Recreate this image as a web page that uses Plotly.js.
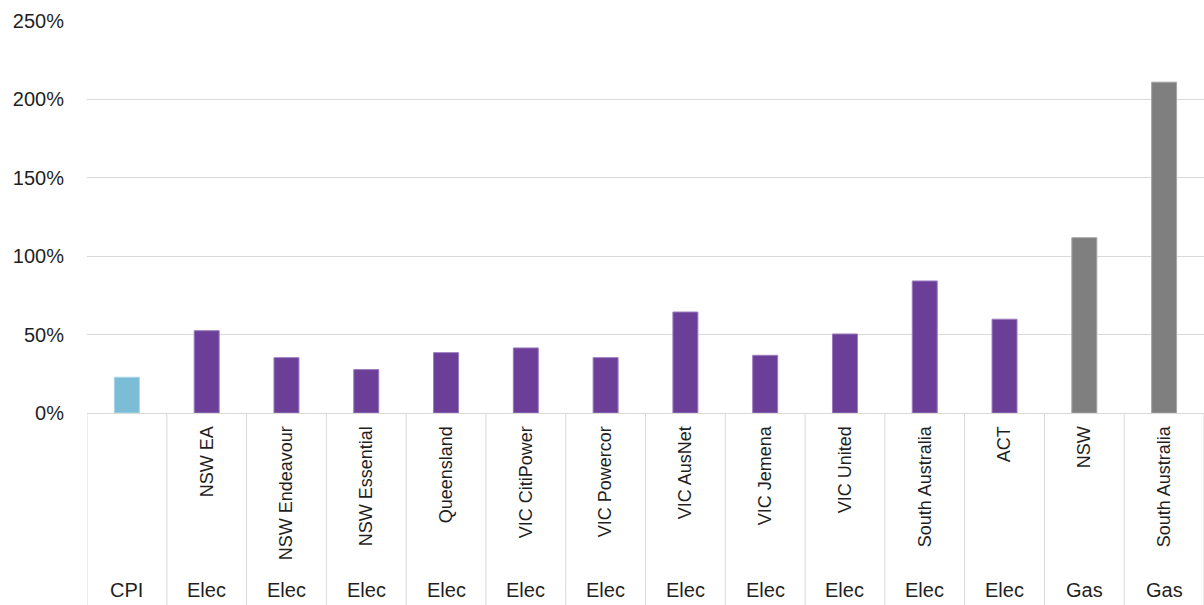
<!DOCTYPE html>
<html>
<head>
<meta charset="utf-8">
<script src="https://cdn.plot.ly/plotly-3.0.1.min.js"></script>
<style>
  html, body { margin: 0; padding: 0; background: #fff; }
  #chart { width: 1204px; height: 605px; }
</style>
</head>
<body>
<div id="chart"></div>
<script>
// ---- data ----
const names  = ["", "NSW EA", "NSW Endeavour", "NSW Essential", "Queensland", "VIC CitiPower",
                "VIC Powercor", "VIC AusNet", "VIC Jemena", "VIC United", "South Australia",
                "ACT", "NSW", "South Australia"];
const groups = ["CPI", "Elec", "Elec", "Elec", "Elec", "Elec", "Elec", "Elec", "Elec", "Elec",
                "Elec", "Elec", "Gas", "Gas"];
const values = [0.228, 0.525, 0.353, 0.277, 0.385, 0.415, 0.353, 0.644, 0.368, 0.504,
                0.842, 0.598, 1.118, 2.11];
const yTicks = [0, 0.5, 1.0, 1.5, 2.0, 2.5];

// ---- styling maps ----
const groupColor = { CPI: "#7bbdd7", Elec: "#6b3f97", Gas: "#7f7f7f" };
const groupEdge  = { CPI: "#a9d4e6", Elec: "#9b7cc0", Gas: "#a6a6a6" };

const idx = names.map((_, i) => i);

const trace = {
  type: "bar",
  x: idx,
  y: values,
  marker: {
    color: groups.map(g => groupColor[g]),
    line: { color: groups.map(g => groupEdge[g]), width: 1 }
  },
  hoverinfo: "y"
};

const textColor = "#1f1f1f";
const font = "Liberation Sans, Arial, sans-serif";

const shapes = [];
for (let i = 0; i <= names.length; i++) {
  shapes.push({
    type: "line", xref: "x", yref: "paper",
    x0: i - 0.5, x1: i - 0.5, y0: 0, y1: -0.49,
    line: { color: "#d9d9d9", width: 1 }
  });
}

const annotations = groups.map((g, i) => ({
  xref: "x", yref: "paper", x: i, y: -0.452,
  text: g, showarrow: false, xanchor: "center", yanchor: "middle",
  font: { family: font, size: 20, color: textColor }
}));

const layout = {
  width: 1204, height: 605,
  margin: { l: 87, r: 0, t: 21, b: 192, pad: 0 },
  paper_bgcolor: "#fff", plot_bgcolor: "#fff",
  showlegend: false,
  bargap: 0.687,
  font: { family: font, color: textColor },
  xaxis: {
    range: [-0.5, names.length - 0.5],
    tickmode: "array", tickvals: idx, ticktext: names,
    tickangle: -90,
    tickfont: { family: font, size: 18, color: textColor },
    showgrid: false, zeroline: false,
    showline: true, linecolor: "#d9d9d9", linewidth: 1,
    ticks: "", ticklabelstandoff: 5,
    fixedrange: true
  },
  yaxis: {
    range: [0, 2.5],
    tickmode: "array", tickvals: yTicks,
    tickformat: ".0%",
    tickfont: { family: font, size: 20, color: textColor },
    showgrid: true, gridcolor: "#d9d9d9", gridwidth: 1,
    zeroline: false, showline: false, ticks: "",
    ticklabelstandoff: 22,
    fixedrange: true
  },
  shapes: shapes,
  annotations: annotations
};

Plotly.newPlot("chart", [trace], layout, { displayModeBar: false, staticPlot: true });
</script>
</body>
</html>
